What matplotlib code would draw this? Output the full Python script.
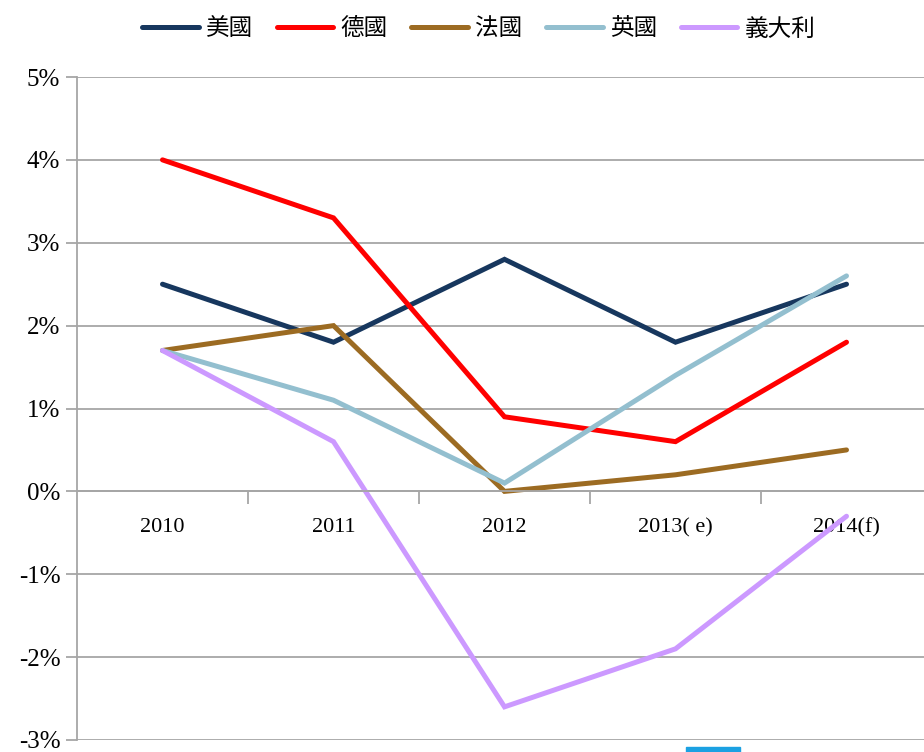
import matplotlib.pyplot as plt
from matplotlib.patches import Rectangle

plt.rcParams['font.family'] = ['Liberation Serif', 'Noto Sans CJK TC', 'DejaVu Sans']

years = ['2010', '2011', '2012', '2013( e)', '2014(f)']
names = ['美國', '德國', '法國', '英國', '義大利']
usa = [2.5, 1.8, 2.8, 1.8, 2.5]
germany = [4.0, 3.3, 0.9, 0.6, 1.8]
france = [1.7, 2.0, 0.0, 0.2, 0.5]
uk = [1.7, 1.1, 0.1, 1.4, 2.6]
italy = [1.7, 0.6, -2.6, -1.9, -0.3]
colors = ['#17375E', '#FF0000', '#9C6B22', '#93BFCF', '#CC99FF']
yticks = [-3, -2, -1, 0, 1, 2, 3, 4, 5]

fig = plt.figure(figsize=(9.24, 7.52), dpi=100)
ax = fig.add_axes([77/924, 12/752, 855/924, 663/752])

x = range(len(years))
for vals, name, c in zip([usa, germany, france, uk, italy], names, colors):
    ax.plot(x, vals, color=c, lw=3.6, label=name, solid_joinstyle='miter',
            solid_capstyle='round')

ax.set_xlim(-0.5, 4.5)
ax.set_ylim(-3, 5)
ax.set_yticks(yticks)
ax.set_yticklabels([f'{v}%' for v in yticks], fontsize=18)
ax.yaxis.grid(True, color='#A6A6A6', lw=1.3)
ax.set_axisbelow(True)

for s in ['top', 'right']:
    ax.spines[s].set_visible(False)
ax.spines['left'].set_color('#A6A6A6')
ax.spines['left'].set_linewidth(1.3)
ax.spines['bottom'].set_position(('data', 0))
ax.spines['bottom'].set_color('#A6A6A6')
ax.spines['bottom'].set_linewidth(1.3)
ax.tick_params(axis='y', length=8, color='#A6A6A6', width=1.3, pad=4)

ax.set_xticks(list(x))
ax.set_xticklabels(years, fontsize=16)
ax.set_xticks([0.5, 1.5, 2.5, 3.5], minor=True)
ax.tick_params(axis='x', which='major', length=0, pad=19)
ax.tick_params(axis='x', which='minor', length=9, color='#A6A6A6', width=1.3, direction='out')

fig.legend(loc='upper center', bbox_to_anchor=(0.518, 1.005), ncol=5, frameon=False,
           handlelength=2.4, columnspacing=1.0, handletextpad=0.3,
           prop={'family': ['Noto Sans CJK TC'], 'size': 17})

fig.patches.append(Rectangle((686/924, 0), 54/924, 5/752, transform=fig.transFigure,
                             color='#1BA1E2'))

fig.savefig('out.png', dpi=100)
